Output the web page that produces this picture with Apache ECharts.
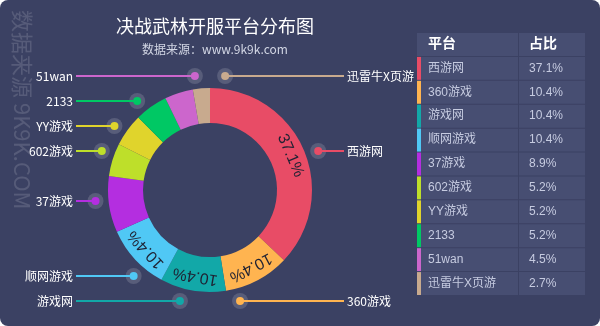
<!DOCTYPE html>
<html>
<head>
<meta charset="utf-8">
<script src="https://cdn.jsdelivr.net/npm/echarts@6/dist/echarts.min.js"></script>
<style>
    html, body { margin: 0; padding: 0; background: #fff; }
    #main { width: 600px; height: 326px; background: #3b4163; border-radius: 8px; overflow: hidden; }
</style>
</head>
<body>
<div id="main"></div>
<script>
    var platforms = ['西游网', '360游戏', '游戏网', '顺网游戏', '37游戏', '602游戏', 'YY游戏', '2133', '51wan', '迅雷牛X页游'];
    var shares = [37.1, 10.4, 10.4, 10.4, 8.9, 5.2, 5.2, 5.2, 4.5, 2.7];
    var colors = ['#e84c66', '#ffb450', '#12a8a8', '#50c8f5', '#b42ee0', '#bedf2a', '#e0d42c', '#00c864', '#cc66cc', '#c8aa8e'];
    var tableHeader = ['平台', '占比'];

    var cnFont = '"Noto Sans CJK SC", sans-serif';
    var tableFont = '"Liberation Sans", "Noto Sans CJK SC", sans-serif';

    var center = [210, 190];
    var dotRadius = 115;
    var rowStep = 25, rowOffset = 11;

    var total = shares.reduce(function (a, b) { return a + b; }, 0);

    // 每个扇区的中心角（从12点方向顺时针，单位度）
    var midAngles = [];
    var acc = 0;
    shares.forEach(function (v) {
        midAngles.push((acc + v / 2) / total * 360);
        acc += v;
    });

    // 外部标签按行对齐，行被占用就放到另一侧
    var used = {'1': {}, '-1': {}};
    var labelPoints = [];
    midAngles.forEach(function (a, i) {
        var dy = -dotRadius * Math.cos(a * Math.PI / 180);
        var k = Math.round((dy - rowOffset) / rowStep);
        var side = a < 180 ? 1 : -1;
        if (used[side][k]) {
            side = -side;
        }
        used[side][k] = true;
        var y = Math.max(-dotRadius, Math.min(dotRadius, rowOffset + k * rowStep));
        var ang = Math.acos(-y / dotRadius) * 180 / Math.PI;
        if (side < 0) {
            ang = 360 - ang;
        }
        labelPoints.push([dotRadius, ang, side, i]);
    });

    var tableRows = [tableHeader[0]].concat(platforms);

    var myChart = echarts.init(document.getElementById('main'));

    var option = {
        animation: false,
        backgroundColor: 'transparent',
        title: {
            text: '决战武林开服平台分布图',
            subtext: '数据来源：www.9k9k.com',
            left: 210,
            top: 12,
            textAlign: 'center',
            itemGap: 8,
            textStyle: {color: '#fff', fontSize: 18, fontWeight: 'normal', fontFamily: cnFont},
            subtextStyle: {color: '#d2d6e4', fontSize: 12, fontFamily: cnFont}
        },
        graphic: [{
            type: 'text',
            x: 22,
            y: 10,
            rotation: -Math.PI / 2,
            silent: true,
            style: {
                text: '数据来源 9K9K.COM',
                fill: 'rgba(255,255,255,0.14)',
                font: '22px ' + cnFont,
                textAlign: 'left',
                textVerticalAlign: 'middle'
            }
        }],
        polar: {center: center, radius: dotRadius},
        angleAxis: {type: 'value', min: 0, max: 360, startAngle: 90, clockwise: true, show: false},
        radiusAxis: {type: 'value', min: 0, max: dotRadius, show: false},
        grid: {left: 417, top: 33, width: 168, height: 263},
        xAxis: {type: 'value', min: 0, max: 1, show: false},
        yAxis: {type: 'category', data: tableRows, inverse: true, show: false},
        series: [
            {
                type: 'pie',
                center: center,
                radius: [67, 102],
                startAngle: 90,
                clockwise: true,
                silent: true,
                label: {
                    position: 'inside',
                    formatter: '{c}%',
                    color: '#1f2233',
                    fontSize: 16,
                    fontFamily: '"Liberation Sans", sans-serif'
                },
                labelLine: {show: false},
                data: platforms.map(function (name, i) {
                    return {
                        name: name,
                        value: shares[i],
                        itemStyle: {color: colors[i]},
                        label: {show: shares[i] >= 10, rotate: -midAngles[i]}
                    };
                })
            },
            {
                type: 'custom',
                coordinateSystem: 'polar',
                silent: true,
                data: labelPoints,
                renderItem: function (params, api) {
                    var p = api.coord([api.value(0), api.value(1)]);
                    var side = api.value(2);
                    var i = api.value(3);
                    var cx = params.coordSys.cx;
                    return {
                        type: 'group',
                        children: [
                            {type: 'circle', shape: {cx: p[0], cy: p[1], r: 8}, style: {fill: 'rgba(255,255,255,0.15)'}},
                            {
                                type: 'line',
                                shape: {x1: p[0], y1: p[1], x2: cx + side * 134, y2: p[1]},
                                style: {stroke: colors[i], lineWidth: 2}
                            },
                            {type: 'circle', shape: {cx: p[0], cy: p[1], r: 4}, style: {fill: colors[i]}},
                            {
                                type: 'text',
                                x: cx + side * 137,
                                y: p[1],
                                style: {
                                    text: platforms[i],
                                    fill: '#fff',
                                    font: '12px ' + cnFont,
                                    textAlign: side > 0 ? 'left' : 'right',
                                    textVerticalAlign: 'middle'
                                }
                            }
                        ]
                    };
                }
            },
            {
                type: 'custom',
                coordinateSystem: 'cartesian2d',
                silent: true,
                data: tableRows.map(function (r, i) { return [0, i]; }),
                renderItem: function (params, api) {
                    var i = api.value(1);
                    var c = api.coord([0, i]);
                    var h = api.size([0, 1])[1];
                    var x0 = params.coordSys.x;
                    var w = params.coordSys.width;
                    var split = x0 + Math.round(w * 0.61);
                    var top = c[1] - h / 2;
                    var header = i === 0;
                    var children = [
                        {type: 'rect', shape: {x: x0, y: top, width: split - x0 - 1, height: h - 1}, style: {fill: '#474e72'}},
                        {type: 'rect', shape: {x: split, y: top, width: x0 + w - split, height: h - 1}, style: {fill: '#474e72'}}
                    ];
                    if (!header) {
                        children.push({type: 'rect', shape: {x: x0, y: top, width: 4, height: h - 1}, style: {fill: colors[i - 1]}});
                    }
                    children.push({
                        type: 'text', x: x0 + 11, y: top + (h - 1) / 2,
                        style: {
                            text: header ? tableHeader[0] : platforms[i - 1],
                            fill: header ? '#fff' : '#c6cbe0',
                            font: (header ? 'bold 14px ' : '12px ') + tableFont,
                            textVerticalAlign: 'middle'
                        }
                    });
                    children.push({
                        type: 'text', x: split + 10, y: top + (h - 1) / 2,
                        style: {
                            text: header ? tableHeader[1] : shares[i - 1].toFixed(1) + '%',
                            fill: header ? '#fff' : '#c6cbe0',
                            font: (header ? 'bold 14px ' : '12px ') + tableFont,
                            textVerticalAlign: 'middle'
                        }
                    });
                    return {type: 'group', children: children};
                }
            }
        ]
    };

    myChart.setOption(option);
</script>
</body>
</html>
